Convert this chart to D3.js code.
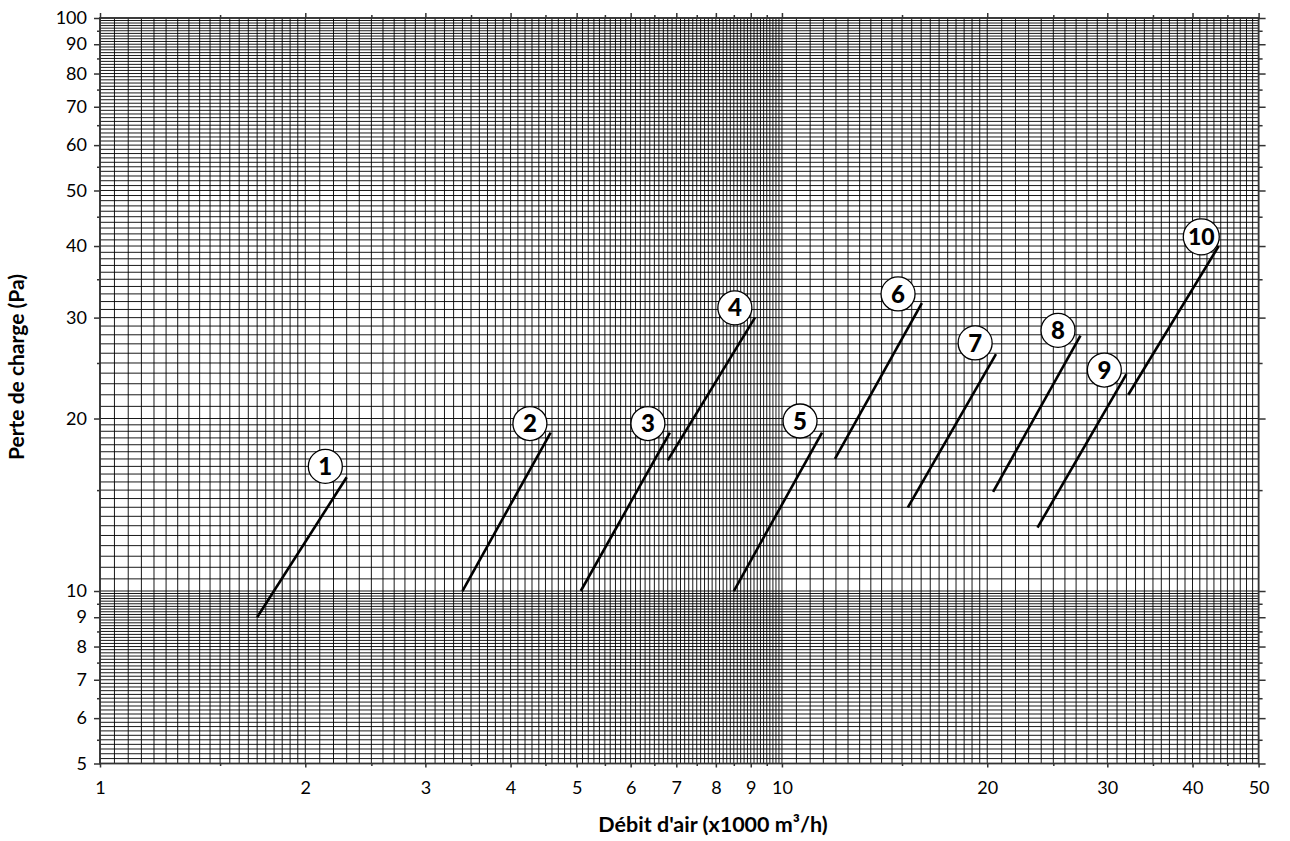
<!DOCTYPE html>
<html><head><meta charset="utf-8">
<script src="https://cdn.jsdelivr.net/npm/d3@7"></script>
<style>body{margin:0;background:#fff}svg{display:block}</style>
</head><body><svg id="c" width="1290" height="841"></svg>
<script>
// ---- data ----
const curveIds   = ["1","2","3","4","5","6","7","8","9","10"];
const flowStart  = [1.70, 3.40, 5.07, 6.80, 8.50, 11.96, 15.3, 20.4, 23.7, 32.2];
const lossStart  = [9.0, 10.0, 10.0, 16.9, 10.0, 17.0, 14.0, 14.9, 12.9, 22.0];
const flowEnd    = [2.30, 4.58, 6.85, 9.13, 11.45, 16.04, 20.6, 27.4, 32.0, 43.7];
const lossEnd    = [15.8, 18.9, 18.9, 30.0, 18.9, 31.8, 25.9, 27.9, 23.9, 40.0];
const badgeFlow  = [2.14, 4.27, 6.36, 8.53, 10.63, 14.8, 19.2, 25.4, 29.7, 41.2];
const badgeLoss  = [16.5, 19.6, 19.6, 31.2, 19.8, 33.0, 27.1, 28.5, 24.3, 41.5];
const xTickLabels = [1,2,3,4,5,6,7,8,9,10,20,30,40,50];
const yTickLabels = [5,6,7,8,9,10,20,30,40,50,60,70,80,90,100];
const xMinorTicks = [1.5,2.5,3.5,4.5,5.5,6.5,7.5,8.5,9.5,15,25,35,45];
const yMinorTicks = [5.5,6.5,7.5,8.5,9.5,15,25,35,45,55,65,75,85,95];
const xTitle = "Débit d'air (x1000 m³/h)";
const yTitle = "Perte de charge (Pa)";

// ---- layout ----
const L = 100, R = 1258.6, T = 18, B = 763.5;
const svg = d3.select("#c");
const x = d3.scaleLog().domain([1, 50]).range([L, R]);
const y = d3.scaleLog().domain([5, 100]).range([B, T]);
const FONT = "Lato, 'Noto Sans', 'DejaVu Sans', sans-serif";

// grid values
const rnd = v => Math.round(v * 1000) / 1000;
const xGrid = [].concat(
  d3.range(1, 2, 0.05), d3.range(2, 5, 0.1), d3.range(5, 10, 0.1),
  d3.range(10, 20, 0.5), d3.range(20, 50.01, 1)).map(rnd);
const yGrid = [].concat(
  d3.range(5, 10, 0.1), d3.range(10, 20, 0.5), d3.range(20, 100.01, 1)).map(rnd);

const g = svg.append("g");
g.selectAll("line.vx").data(xGrid).join("line")
  .attr("x1", d => x(d)).attr("x2", d => x(d)).attr("y1", T).attr("y2", B)
  .attr("stroke", "#000").attr("stroke-width", 1).attr("stroke-opacity", 0.9);
g.selectAll("line.hy").data(yGrid).join("line")
  .attr("y1", d => y(d)).attr("y2", d => y(d)).attr("x1", L).attr("x2", R)
  .attr("stroke", "#000").attr("stroke-width", 1).attr("stroke-opacity", 0.9);

// frame
svg.append("rect").attr("x", L).attr("y", T).attr("width", R - L).attr("height", B - T)
  .attr("fill", "none").attr("stroke", "#333").attr("stroke-width", 1.8);

// axes
const fmt = d => String(d);
const axB = d3.axisBottom(x).tickValues(xTickLabels).tickFormat(fmt).tickSize(4).tickPadding(14);
const axL = d3.axisLeft(y).tickValues(yTickLabels).tickFormat(fmt).tickSize(6).tickPadding(7);
const axT = d3.axisTop(x).tickValues(xTickLabels).tickFormat("").tickSize(5);
const axR = d3.axisRight(y).tickValues(yTickLabels).tickFormat("").tickSize(7);
function style(sel){
  sel.select(".domain").remove();
  sel.selectAll(".tick line").attr("stroke", "#333").attr("stroke-width", 1.5);
  sel.selectAll("text").attr("font-family", FONT).attr("font-size", 18).attr("fill", "#000");
}
svg.append("g").attr("transform", `translate(0,${B})`).call(axB).call(style);
svg.append("g").attr("transform", `translate(${L},0)`).call(axL).call(style);
svg.append("g").attr("transform", `translate(0,${T})`).call(axT).call(style);
svg.append("g").attr("transform", `translate(${R},0)`).call(axR).call(style);
// minor ticks
svg.append("g").attr("transform", `translate(0,${B})`).call(d3.axisBottom(x).tickValues(xMinorTicks).tickFormat("").tickSize(2.5)).call(style);
svg.append("g").attr("transform", `translate(0,${T})`).call(d3.axisTop(x).tickValues(xMinorTicks).tickFormat("").tickSize(3)).call(style);
svg.append("g").attr("transform", `translate(${L},0)`).call(d3.axisLeft(y).tickValues(yMinorTicks).tickFormat("").tickSize(3)).call(style);
svg.append("g").attr("transform", `translate(${R},0)`).call(d3.axisRight(y).tickValues(yMinorTicks).tickFormat("").tickSize(4)).call(style);

// titles
svg.append("text").attr("x", 713).attr("y", 832).attr("text-anchor", "middle")
  .attr("font-family", FONT).attr("font-weight", "bold").attr("font-size", 21.5).text(xTitle);
svg.append("text").attr("transform", `translate(24,367) rotate(-90)`).attr("text-anchor", "middle")
  .attr("font-family", FONT).attr("font-weight", "bold").attr("font-size", 21).text(yTitle);

// curves
const curves = curveIds.map((id, i) => ({id, x1: flowStart[i], y1: lossStart[i], x2: flowEnd[i], y2: lossEnd[i], bx: badgeFlow[i], by: badgeLoss[i]}));
svg.append("g").selectAll("line").data(curves).join("line")
  .attr("x1", d => x(d.x1)).attr("y1", d => y(d.y1)).attr("x2", d => x(d.x2)).attr("y2", d => y(d.y2))
  .attr("stroke", "#000").attr("stroke-width", 2.6);
const bg = svg.append("g").selectAll("g").data(curves).join("g")
  .attr("transform", d => `translate(${x(d.bx)},${y(d.by)})`);
bg.append("circle").attr("r", d => d.id.length > 1 ? 18 : 17).attr("fill", "#fff").attr("stroke", "#000").attr("stroke-width", 1.3);
bg.append("text").attr("text-anchor", "middle").attr("dy", "0.36em")
  .attr("font-family", FONT).attr("font-weight", 900).attr("font-size", d => d.id.length > 1 ? 23 : 24).text(d => d.id);
</script></body></html>
